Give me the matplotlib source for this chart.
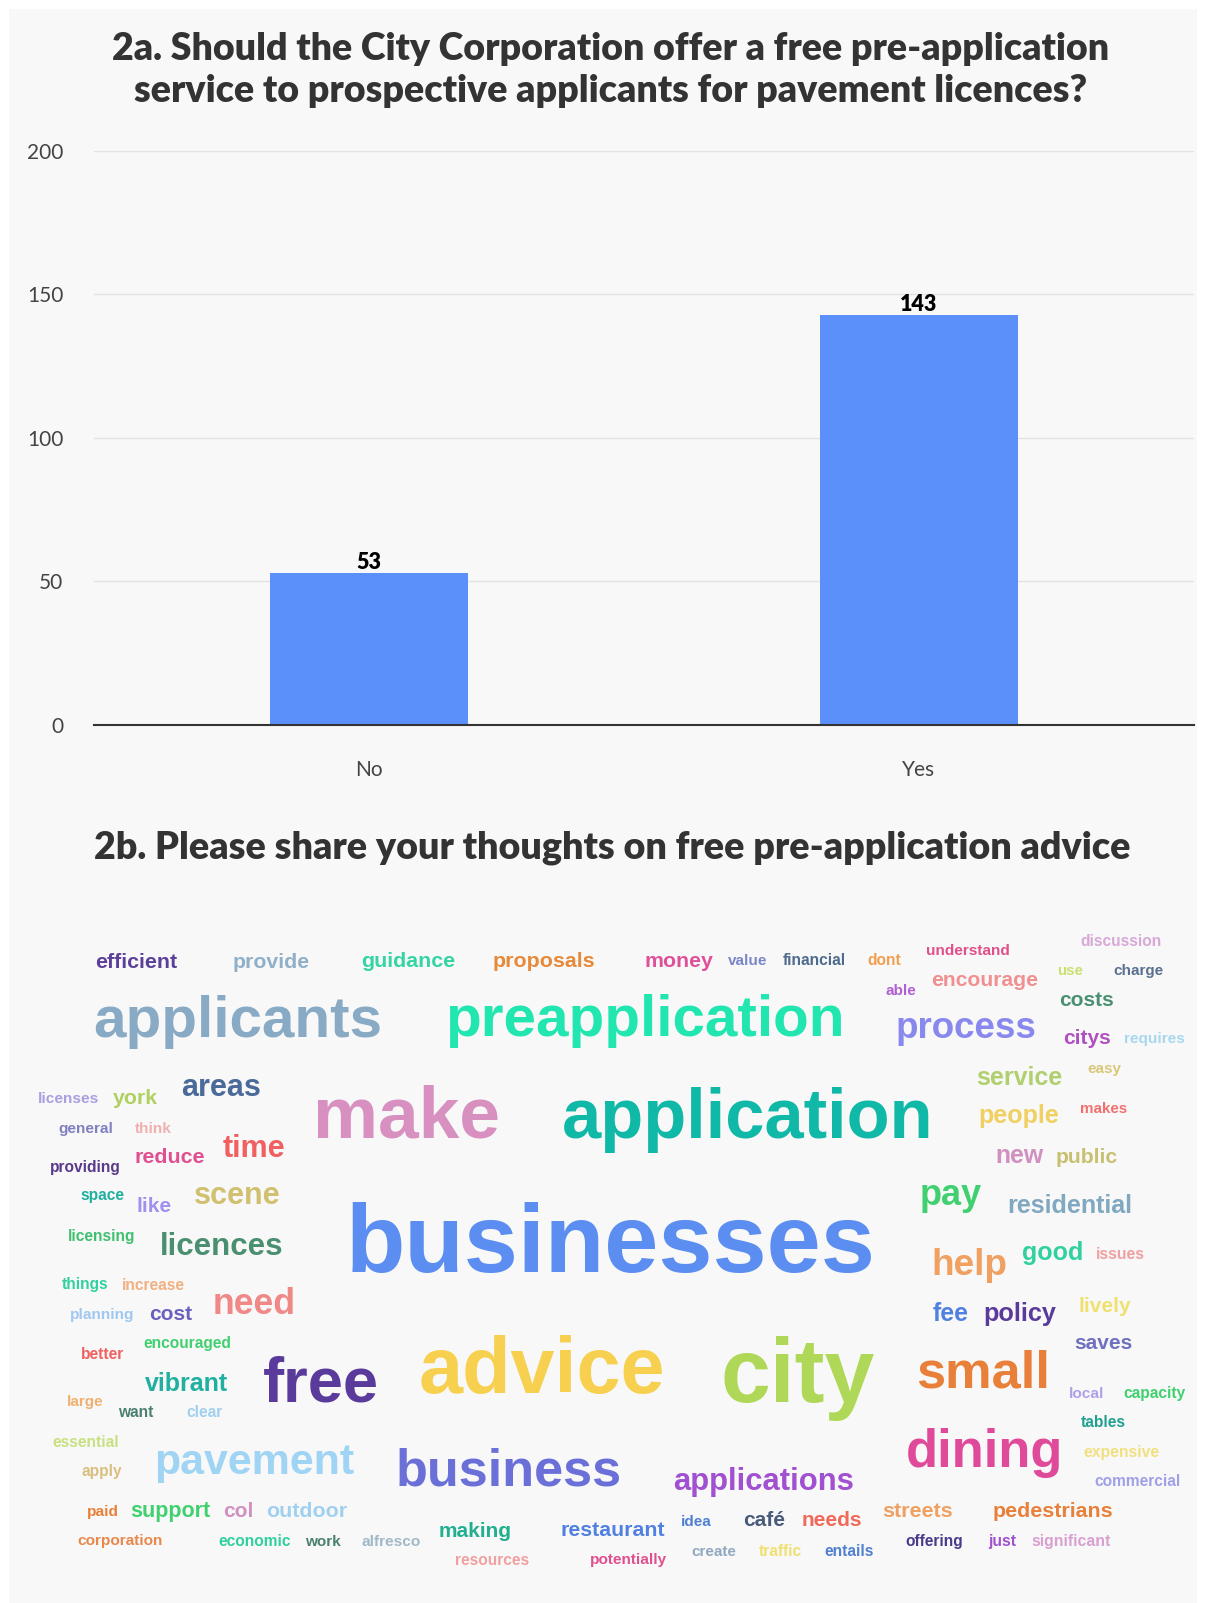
import matplotlib
matplotlib.use("Agg")
import matplotlib.pyplot as plt
from matplotlib.patches import Rectangle

# -------------------------
# DATA
# -------------------------
ANSWERS = ["No", "Yes"]
COUNTS = [53, 143]
Y_TICKS = [0, 50, 100, 150, 200]

TITLE_A = ("2a. Should the City Corporation offer a free pre-application\n"
           "service to prospective applicants for pavement licences?")
TITLE_B = "2b. Please share your thoughts on free pre-application advice"

# word cloud: word and its weight (font size, pt)
WORDS = [
    "efficient", "provide", "guidance", "proposals", "money", "value", "financial",
    "dont", "understand", "discussion", "able", "encourage", "use", "charge",
    "costs", "process", "citys", "requires", "service", "easy", "people", "makes",
    "new", "public", "pay", "residential", "applicants", "preapplication",
    "licenses", "york", "areas", "general", "think", "time", "reduce", "providing",
    "scene", "like", "space", "licensing", "licences", "make", "application",
    "businesses", "things", "increase", "planning", "cost", "need", "encouraged",
    "better", "vibrant", "free", "large", "want", "clear", "essential", "apply",
    "pavement", "paid", "support", "col", "outdoor", "corporation", "economic",
    "work", "alfresco", "business", "applications", "making", "restaurant", "idea",
    "café", "needs", "resources", "potentially", "create", "traffic", "entails",
    "advice", "city", "help", "good", "issues", "fee", "policy", "lively", "saves",
    "small", "local", "capacity", "tables", "dining", "expensive", "commercial",
    "streets", "pedestrians", "offering", "just", "significant",
]
WEIGHTS = [
    15.4, 15.3, 15.4, 15.4, 15.3, 11.0, 11.2,
    11.2, 11.1, 11.2, 11.0, 15.2, 10.9, 11.0,
    15.0, 26.5, 15.0, 11.1, 18.0, 11.0, 18.0, 10.9,
    17.8, 15.2, 26.0, 18.0, 42.0, 42.0,
    11.1, 15.3, 22.0, 11.1, 11.1, 22.0, 15.4, 11.2,
    22.0, 15.0, 11.2, 11.2, 22.5, 52.7, 50.8,
    70.0, 11.2, 11.2, 11.1, 15.0, 25.7, 11.2,
    11.2, 18.0, 45.5, 11.0, 11.2, 11.2, 11.2, 11.2,
    30.9, 11.1, 15.5, 15.0, 15.4, 11.1, 11.2,
    11.0, 11.1, 37.6, 22.3, 15.0, 15.3, 11.0,
    15.0, 15.0, 11.2, 11.1, 11.0, 11.2, 11.2,
    57.0, 64.5, 26.6, 18.0, 11.3, 17.8, 18.2, 15.0, 15.0,
    37.7, 11.1, 11.2, 11.2, 37.8, 11.3, 11.2,
    15.4, 15.4, 11.2, 11.3, 11.4,
]

# -------------------------
# WORD CLOUD LAYOUT (left x, baseline y in pixels) AND COLOURS
# -------------------------
WORD_POS = [
    (95, 968), (233, 968), (361, 967), (493, 967), (645, 967), (728, 965), (783, 965),
    (867, 965), (926, 955), (1080, 946), (885, 995), (931, 986), (1057, 975), (1113, 975),
    (1059, 1006), (896, 1038), (1063, 1044), (1124, 1043), (976, 1085), (1087, 1073),
    (978, 1123), (1080, 1113),
    (995, 1163), (1056, 1163), (920, 1205), (1007, 1213), (93, 1037), (445, 1036),
    (38, 1103), (113, 1104), (181, 1096), (58, 1133), (135, 1133), (223, 1157),
    (135, 1163), (50, 1172),
    (194, 1204), (136, 1212), (80, 1200), (68, 1241), (160, 1255), (313, 1138), (562, 1138),
    (346, 1272), (62, 1289), (122, 1290), (70, 1319), (149, 1320), (213, 1314), (143, 1348),
    (81, 1359), (145, 1391), (263, 1402), (67, 1406), (118, 1417), (186, 1417), (52, 1447),
    (82, 1476),
    (154, 1474), (87, 1516), (130, 1517), (223, 1517), (266, 1517), (77, 1545), (218, 1546),
    (305, 1546), (361, 1546), (396, 1486), (673, 1490), (439, 1537), (560, 1536), (681, 1526),
    (743, 1526), (802, 1526), (455, 1565), (590, 1564), (691, 1556), (759, 1556), (824, 1556),
    (419, 1393), (720, 1402), (931, 1275), (1022, 1260), (1096, 1259), (933, 1321),
    (983, 1321), (1078, 1312), (1074, 1349),
    (916, 1387), (1069, 1398), (1123, 1398), (1081, 1427), (906, 1467), (1083, 1457),
    (1094, 1486),
    (882, 1517), (993, 1517), (905, 1546), (988, 1546), (1031, 1546),
]
WORD_COLORS = [
    "#5b3f9a", "#8fb0c8", "#35d4a4", "#e8893a", "#e0509a", "#7a86c8", "#4e6a8e",
    "#f0a050", "#e0508a", "#d8a8d8", "#b060d0", "#f09090", "#c8e070", "#5a7090",
    "#4a9070", "#8888ee", "#b050c0", "#a8d8f0", "#b0d070", "#d8c878", "#f0d060", "#f07070",
    "#d090c0", "#c8c070", "#40d070", "#80a8c0", "#88aac4", "#22e6b0",
    "#a8a0e0", "#b0d060", "#4a6a9a", "#8080c0", "#f0b0b0", "#f06060", "#e05090", "#5a3a8a",
    "#d0c070", "#a090f0", "#20b0a0", "#40c070", "#4a9070", "#d890c0", "#10b8a8",
    "#5b8ef0", "#30d0a0", "#f0b080", "#a0c8f0", "#6a60c0", "#f08888", "#40d070",
    "#f06060", "#20b0a0", "#5a3a9a", "#f0b070", "#4a8070", "#a0d0f0", "#c8e080", "#d8c080",
    "#a0d4f4", "#e8803a", "#40d070", "#d090c0", "#a0d0f0", "#e8884a", "#30d0a0",
    "#4a8070", "#a0b8c8", "#6a70d8", "#a050d0", "#20b090", "#5080e0", "#5080d0",
    "#4a5a7a", "#f06a5a", "#f0a0a0", "#e05090", "#90a8c0", "#f0e070", "#5080d0",
    "#f8d050", "#b0d858", "#f0a060", "#30d0a0", "#f0a0a0", "#5080e0", "#5a3a9a", "#f0e070",
    "#7070c0",
    "#e8803a", "#b0a0e8", "#40d070", "#20a090", "#e04a9a", "#f0e080", "#a0a0e8",
    "#f0a060", "#e8803a", "#4a3a8a", "#a050d0", "#d8a0d0",
]

W, H = 1206, 1603
BAR_COLOR = "#5b8ff9"
UI_FONT = ["Lato", "DejaVu Sans"]
CLOUD_FONT = ["Liberation Sans", "DejaVu Sans"]

fig = plt.figure(figsize=(W / 100, H / 100), dpi=100)
fig.patch.set_facecolor("white")

# full-figure canvas in pixel coordinates
bg = fig.add_axes([0, 0, 1, 1])
bg.set_xlim(0, W)
bg.set_ylim(H, 0)
bg.axis("off")
bg.add_patch(Rectangle((9, 9), W - 18, H - 9, facecolor="#f8f8f8", edgecolor="none", zorder=0))

bg.text(611, 70, TITLE_A, ha="center", va="center", fontsize=27.0, fontweight="heavy",
        color="#333333", family=UI_FONT, linespacing=1.3)
bg.text(94, 848, TITLE_B, ha="left", va="center", fontsize=27.1, fontweight="heavy",
        color="#333333", family=UI_FONT)

for word, size, (x, y), col in zip(WORDS, WEIGHTS, WORD_POS, WORD_COLORS):
    bg.text(x, y, word, ha="left", va="baseline", fontsize=size, fontweight="bold",
            color=col, family=CLOUD_FONT)

# -------------------------
# BAR CHART
# -------------------------
ax = fig.add_axes([94 / W, (H - 725) / H, 1100 / W, 574 / H])
ax.patch.set_alpha(0)
bars = ax.bar(range(len(ANSWERS)), COUNTS, width=0.36, color=BAR_COLOR, zorder=3)
for rect, v in zip(bars, COUNTS):
    ax.annotate(str(v), (rect.get_x() + rect.get_width() / 2, v), xytext=(0, 0),
                textcoords="offset points", ha="center", va="bottom", fontsize=15.5,
                fontweight="heavy", color="black", family=UI_FONT)

ax.set_xlim(-0.5, 1.5)
ax.set_ylim(0, 200)
ax.set_yticks(Y_TICKS)
ax.set_yticklabels([str(t) for t in Y_TICKS], family=UI_FONT, fontsize=15, color="#444444")
ax.set_xticks(range(len(ANSWERS)))
ax.set_xticklabels(ANSWERS, family=UI_FONT, fontsize=15, color="#444444")
ax.tick_params(axis="y", length=0, pad=22)
ax.tick_params(axis="x", length=0, pad=25)
ax.grid(axis="y", color="#e3e3e3", linewidth=1, zorder=0)
for side in ["top", "right", "left"]:
    ax.spines[side].set_visible(False)
ax.spines["bottom"].set_color("#333333")
ax.spines["bottom"].set_linewidth(1.5)
ax.spines["bottom"].set_zorder(4)

fig.savefig("out.png", dpi=100, facecolor=fig.get_facecolor())
